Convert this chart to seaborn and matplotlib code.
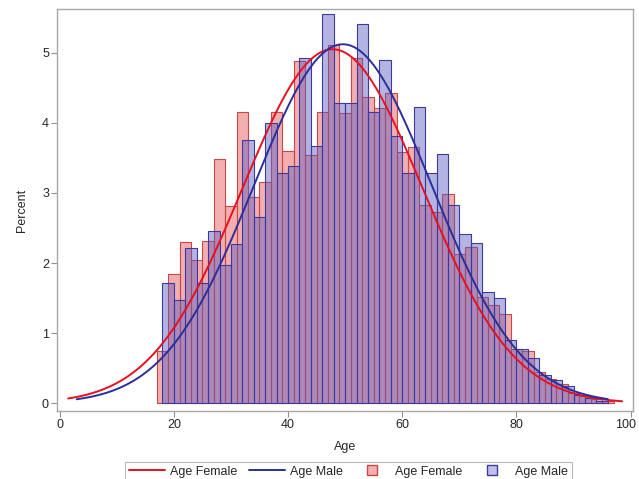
import numpy as np
import pandas as pd
import matplotlib
matplotlib.use("Agg")
import matplotlib.pyplot as plt
import matplotlib.transforms as mtransforms
from matplotlib.lines import Line2D
import seaborn as sns

# percent per 2-year bin, female bins start at 17, male bins at 18
female_start = 17
female_pct = [0.75, 1.84, 2.30, 2.04, 2.31, 3.49, 2.82, 4.15, 2.94, 3.16,
              4.16, 3.60, 4.88, 3.54, 4.15, 5.11, 4.14, 4.93, 4.37, 4.21,
              4.42, 3.58, 3.65, 2.83, 2.73, 2.98, 2.13, 2.23, 1.52, 1.40,
              1.27, 0.78, 0.74, 0.45, 0.35, 0.28, 0.15, 0.10, 0.06, 0.03]
male_start = 18
male_pct = [1.71, 1.48, 2.22, 1.72, 2.46, 1.98, 2.27, 3.76, 2.66, 4.00,
            3.29, 3.38, 4.92, 3.67, 5.55, 4.29, 4.29, 5.41, 4.15, 4.89,
            3.81, 3.29, 4.23, 3.29, 3.56, 2.83, 2.42, 2.28, 1.59, 1.50,
            0.91, 0.78, 0.64, 0.40, 0.33, 0.25, 0.12, 0.08, 0.04]
bin_width = 2

# fitted normal curves
female_mean, female_sd = 47.8, 15.8
male_mean, male_sd = 49.6, 15.58
female_curve_range = (1.5, 98.5)
male_curve_range = (3.0, 96.0)

sns.set_style("white")
plt.rcParams["font.family"] = ["Liberation Sans", "DejaVu Sans"]

fig = plt.figure(figsize=(6.39, 4.79), dpi=100)
ax = fig.add_axes([0.0897, 0.1426, 0.9009, 0.838])

f_edges = [float(female_start + bin_width * i) for i in range(len(female_pct) + 1)]
m_edges = [float(male_start + bin_width * i) for i in range(len(male_pct) + 1)]
fdf = pd.DataFrame({"Age": [e + bin_width / 2 for e in f_edges[:-1]], "pct": female_pct})
mdf = pd.DataFrame({"Age": [e + bin_width / 2 for e in m_edges[:-1]], "pct": male_pct})

sns.histplot(data=fdf, x="Age", weights="pct", bins=f_edges, ax=ax,
             color="#e86060", alpha=0.5, edgecolor="#c84848", linewidth=0.8)
sns.histplot(data=mdf, x="Age", weights="pct", bins=m_edges, ax=ax,
             color="#5a5ac0", alpha=0.45, edgecolor="#3a3aa0", linewidth=0.8)


def normal_pct(x, mu, sd):
    return 100 * bin_width * np.exp(-0.5 * ((x - mu) / sd) ** 2) / (sd * np.sqrt(2 * np.pi))


xf = np.linspace(*female_curve_range, 300)
xm = np.linspace(*male_curve_range, 300)
sns.lineplot(x=xf, y=normal_pct(xf, female_mean, female_sd), ax=ax,
             color="#e8101e", linewidth=1.4)
sns.lineplot(x=xm, y=normal_pct(xm, male_mean, male_sd), ax=ax,
             color="#2a2f9a", linewidth=1.4)

ax.set_xlim(-0.4, 100.4)
ax.set_ylim(-0.105, 5.62)
ax.set_xticks([0, 20, 40, 60, 80, 100])
ax.set_yticks([0, 1, 2, 3, 4, 5])
for s in ax.spines.values():
    s.set_color("#a8a8a8")
    s.set_linewidth(1.0)
ax.tick_params(axis="both", direction="out", length=4, width=0.8,
               color="#909090", labelsize=9, pad=2, bottom=True, left=True)
ax.set_xlabel("Age", fontsize=9, labelpad=7)
ax.set_ylabel("Percent", fontsize=9, labelpad=10)

# nudge the "100" label so it stays inside the picture
last = ax.get_xticklabels()[-1]
last.set_transform(last.get_transform() +
                   mtransforms.ScaledTranslation(-4 / 72, 0, fig.dpi_scale_trans))

handles = [
    Line2D([], [], color="#e8101e", linewidth=1.4),
    Line2D([], [], color="#2a2f9a", linewidth=1.4),
    Line2D([], [], marker="s", linestyle="None", markersize=7,
           markerfacecolor="#f4b0b0", markeredgecolor="#c84848"),
    Line2D([], [], marker="s", linestyle="None", markersize=7,
           markerfacecolor="#c0c0e6", markeredgecolor="#3a3aa0"),
]
labels = ["Age Female", "Age Male", "Age Female", "Age Male"]
leg = fig.legend(handles, labels, loc="lower center", ncol=4,
                 bbox_to_anchor=(0.545, -0.018), fontsize=9, frameon=True,
                 fancybox=False, edgecolor="#a8a8a8", handlelength=2.9,
                 columnspacing=0.9, handletextpad=0.4, borderpad=0.3)
leg.get_frame().set_linewidth(0.8)

plt.savefig("out.png", dpi=100)
